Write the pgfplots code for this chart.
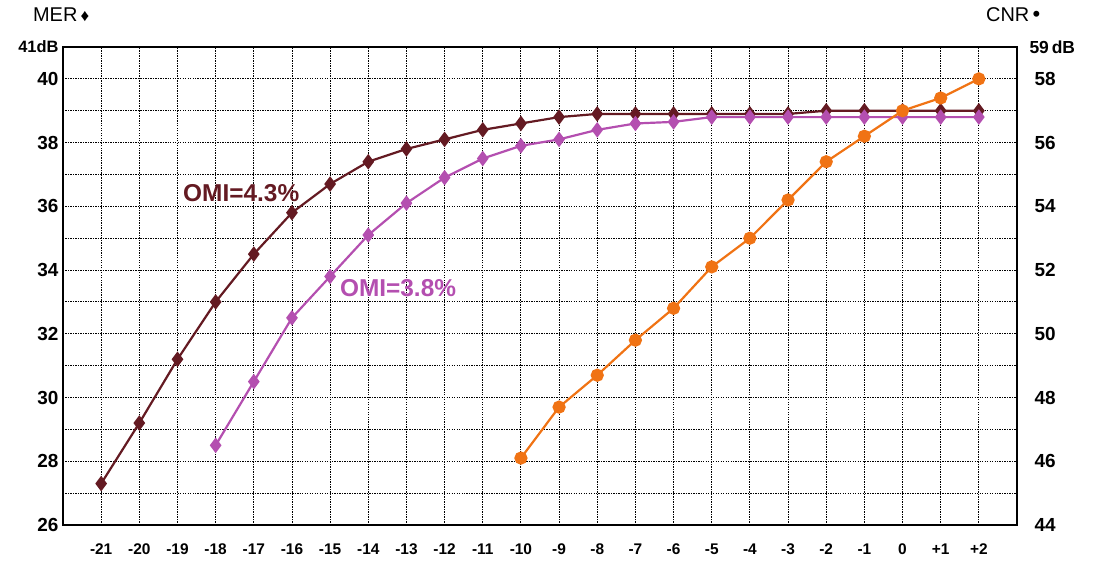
\documentclass[border=0pt]{standalone}
\usepackage{fontspec}
\setmainfont{Liberation Sans}
\usepackage{pgfplots}
\pgfplotsset{compat=1.18}
\definecolor{merbrown}{HTML}{641A22}
\definecolor{mervio}{HTML}{B44FB0}
\definecolor{cnrorange}{HTML}{F07314}

\pgfplotsset{
  common/.style={
    scale only axis, width=954bp, height=478bp,
    xmin=-22, xmax=3,
    major tick length=0pt, minor tick length=0pt,
    axis line style={line width=2.6pt},
    /pgf/number format/assume math mode=true,
  }
}

\begin{document}
\begin{tikzpicture}
\begin{axis}[
  common,
  ymin=26, ymax=41,
  xtick={-21,...,2},
  xticklabels={-21,-20,-19,-18,-17,-16,-15,-14,-13,-12,-11,-10,-9,-8,-7,-6,-5,-4,-3,-2,-1,0,+1,+2},
  ytick={26,28,...,40},
  minor ytick={27,29,...,39},
  grid=both,
  major grid style={black, line width=0.9pt, dash pattern=on 1.4pt off 1.1pt},
  minor grid style={black, line width=0.9pt, dash pattern=on 1.4pt off 1.1pt},
  xticklabel style={font=\bfseries\fontsize{15.5}{15.5}\selectfont, yshift=-15bp},
  yticklabel style={font=\bfseries\fontsize{19}{19}\selectfont, xshift=-1bp},
  extra y ticks={41},
  extra y tick labels={41dB},
  extra y tick style={grid=none, yticklabel style={font=\bfseries\fontsize{16.5}{16.5}\selectfont}},
  clip=false,
]
\addplot[merbrown, line width=2.2bp, mark=diamond*, mark size=6bp] coordinates {
  (-21,27.3) (-20,29.2) (-19,31.2) (-18,33.0) (-17,34.5) (-16,35.8)
  (-15,36.7) (-14,37.4) (-13,37.8) (-12,38.1) (-11,38.4) (-10,38.6)
  (-9,38.8) (-8,38.9) (-7,38.9) (-6,38.9) (-5,38.9) (-4,38.9)
  (-3,38.9) (-2,39.0) (-1,39.0) (0,39.0) (1,39.0) (2,39.0)
};
\addplot[mervio, line width=2.2bp, mark=diamond*, mark size=6bp] coordinates {
  (-18,28.5) (-17,30.5) (-16,32.5) (-15,33.8) (-14,35.1) (-13,36.1)
  (-12,36.9) (-11,37.5) (-10,37.9) (-9,38.1) (-8,38.4) (-7,38.6)
  (-6,38.65) (-5,38.8) (-4,38.8) (-3,38.8) (-2,38.8) (-1,38.8)
  (0,38.8) (1,38.8) (2,38.8)
};
\node[merbrown, font=\bfseries\fontsize{24.5}{24.5}\selectfont] at (axis cs:-17.33,36.42) {OMI=4.3\%};
\node[mervio, font=\bfseries\fontsize{24.5}{24.5}\selectfont] at (axis cs:-13.22,33.44) {OMI=3.8\%};
\node[anchor=west, font=\fontsize{20}{20}\selectfont] at (rel axis cs:-0.035,1.067) {MER\,{\fontsize{17}{17}\selectfont ♦}};
\node[anchor=west, font=\fontsize{20}{20}\selectfont] at (rel axis cs:0.964,1.067) {CNR\,{\fontsize{22}{22}\selectfont •}};
\end{axis}
\begin{axis}[
  common,
  axis x line=none,
  axis y line*=right,
  ymin=44, ymax=59,
  ytick={44,46,...,58},
  extra y ticks={59},
  extra y tick labels={59\,dB},
  extra y tick style={yticklabel style={font=\bfseries\fontsize{17.5}{17.5}\selectfont, xshift=-5bp}},
  yticklabel style={font=\bfseries\fontsize{19}{19}\selectfont, xshift=14bp},
]
\addplot[cnrorange, line width=2.2bp, mark=*, mark size=5.5bp] coordinates {
  (-10,46.1) (-9,47.7) (-8,48.7) (-7,49.8) (-6,50.8) (-5,52.1)
  (-4,53.0) (-3,54.2) (-2,55.4) (-1,56.2) (0,57.0) (1,57.4) (2,58.0)
};
\end{axis}
\useasboundingbox ([shift={(-63bp,-39bp)}]current axis.south west) rectangle ([shift={(77bp,47bp)}]current axis.north east);
\end{tikzpicture}
\end{document}
